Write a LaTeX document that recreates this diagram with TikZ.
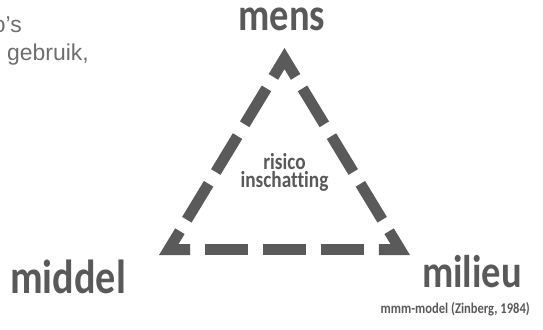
\documentclass[tikz,border=0pt]{standalone}
\usepackage{fontspec}
\usetikzlibrary{calc}
\newfontfamily\labelfont{Carlito}[FakeStretch=0.84, Ligatures=NoCommon]
\newfontfamily\notefont{Liberation Sans}
\definecolor{trigray}{HTML}{5A5A5A}
\definecolor{labelgray}{HTML}{595959}
\definecolor{notegray}{HTML}{6E6E6E}
\tikzset{
  side/.style={draw=trigray, line width=11bp},
  corner/.style={side, line join=miter},
  label/.style={inner sep=0pt, text=labelgray, font=\labelfont\bfseries\fontsize{46}{50}\selectfont},
  note/.style={inner sep=0pt, text=notegray, font=\notefont\fontsize{23}{28}\selectfont}
}
\begin{document}
\begin{tikzpicture}[x=1bp,y=1bp]
        \useasboundingbox (0,0) rectangle (543,329);

        % corners of the triangle
        \coordinate (top) at (284.5,270.4);
        \coordinate (left) at (168.8,79.5);
        \coordinate (right) at (400.2,79.5);

        \foreach \v/\p/\q in {top/left/right, left/right/top, right/top/left}
            \draw[corner] ($(\v)!21.4bp!(\p)$)--(\v)--($(\v)!21.4bp!(\q)$);

        \foreach \a/\b/\d/\g in {top/left/42/13.8, left/right/43.5/14.35, right/top/42/13.8}
            \draw[side, dash pattern=on \d bp off \g bp]
                ($(\a)!\d bp/2+\g bp!(\b)$)--($(\b)!\d bp/2+\g bp!(\a)$);

        \node[label, anchor=base] (mens) at (282,299) {mens};
        \node[label, anchor=base west, font=\labelfont\bfseries\fontsize{48}{50}\selectfont] (middel) at (10,36) {middel};
        \node[label, anchor=base east] (milieu) at (522,42) {milieu};
        \node[label, anchor=base east, font=\labelfont\bfseries\fontsize{15}{18}\selectfont] (source) at (530,16) {mmm-model (Zinberg, 1984)};
        \node[label, anchor=base, align=center, font=\labelfont\bfseries\fontsize{23}{13.5}\selectfont] (risk) at (284.5,142) {risico\\inschatting};

        %\node[note] at (0,0) {};
        \node[note, anchor=base east] (cut1) at (22,297) {o’s};
        \node[note, anchor=base west] (cut2) at (7,269) {gebruik,};
    \end{tikzpicture}
\end{document}
